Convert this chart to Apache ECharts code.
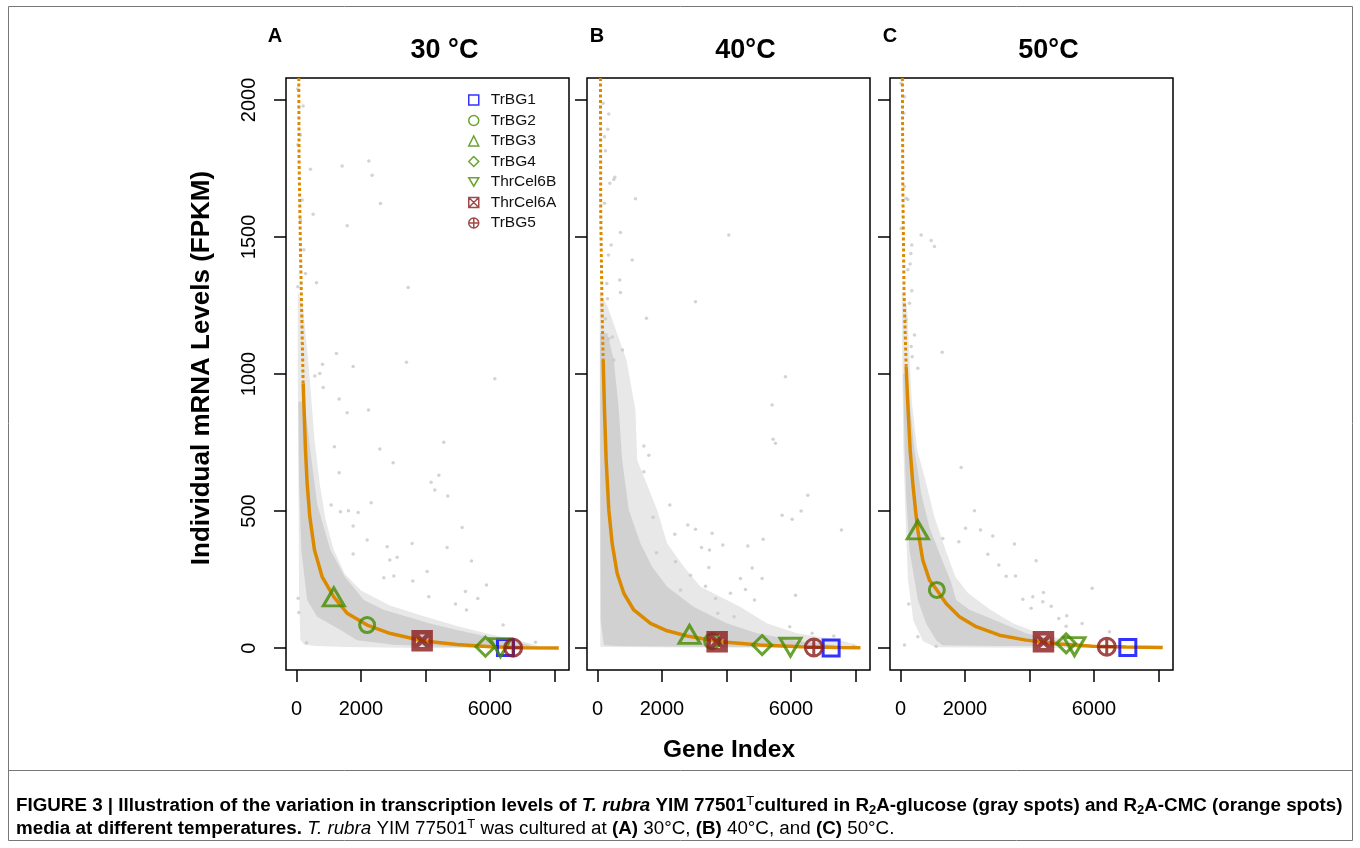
<!DOCTYPE html>
<html><head><meta charset="utf-8">
<script src="https://cdn.jsdelivr.net/npm/echarts@6/dist/echarts.min.js"></script>
<style>html,body{margin:0;padding:0;background:#fff}#c{width:1360px;height:848px}</style>
</head><body><div id="c"></div>
<script>
// ---------------- data ----------------
const xTicks = [0, 2000, 4000, 6000, 8000];
const xTickLabels = [0, 2000, 6000];
const yTicks = [0, 500, 1000, 1500, 2000];
const yTickLabels = [0, 500, 1000, 1500, 2000];
const panelLetters = ['A', 'B', 'C'];
const panelTitles = ['30 °C', '40°C', '50°C'];
const geneNames = ['TrBG1', 'TrBG2', 'TrBG3', 'TrBG4', 'ThrCel6B', 'ThrCel6A', 'TrBG5'];

// highlighted genes [gene index, FPKM] in geneNames order
const genesA = [[6481, 2], [2191, 84], [1157, 187], [5860, 5], [6326, 2], [3897, 27], [6719, 1]];
const genesB = [[7246, 0], [3556, 25], [2853, 50], [5106, 11], [5984, 3], [3711, 23], [6708, 2]];
const genesC = [[7050, 2], [1127, 212], [537, 431], [5137, 17], [5395, 5], [4434, 23], [6397, 5]];

// R2A-CMC sorted expression (orange), sparse top part and dense part
const curveTopA = [[72, 2080], [80, 1780], [124, 1452], [170, 1180], [207, 966]];
const curveA = [[207, 966], [250, 820], [279, 723], [331, 601], [413, 479], [558, 358], [796, 260], [1157, 187], [1571, 127], [2191, 84], [2915, 53], [3948, 26], [4982, 13], [6015, 5], [7050, 1.5], [8134, 0]];
const curveTopB = [[93, 2080], [100, 1600], [140, 1250], [176, 1051]];
const curveB = [[176, 1051], [217, 869], [269, 686], [351, 504], [455, 382], [610, 273], [816, 200], [1126, 139], [1643, 90], [2160, 63], [2780, 44], [3814, 23], [5054, 11], [6295, 5], [7535, 2], [8155, 1]];
const curveTopC = [[60, 2080], [71, 1700], [110, 1300], [176, 1027]];
const curveC = [[176, 1027], [240, 860], [300, 723], [382, 601], [465, 504], [537, 431], [692, 321], [899, 248], [1127, 212], [1416, 163], [1829, 114], [2346, 78], [3070, 47], [3897, 29], [4930, 15], [5963, 7], [6997, 4], [8133, 2]];

// R2A-glucose (gray): envelope of the sparse cloud, envelope of the dense core, and isolated spots
const cloudA = [[40, 1300], [200, 1250], [400, 1000], [560, 760], [720, 600], [900, 470], [1150, 360], [1500, 270], [2000, 210], [2900, 155], [3900, 118], [5000, 80], [6000, 50], [7000, 25], [7500, 8], [7500, 0], [4000, 0], [1500, 4], [600, 8], [250, 12], [120, 30], [80, 200], [60, 600], [40, 1000]];
const coreA = [[60, 900], [250, 900], [450, 700], [650, 520], [1054, 358], [1500, 260], [2088, 175], [2700, 140], [3432, 114], [4200, 88], [4982, 66], [5800, 45], [6532, 29], [7200, 12], [7300, 3], [6000, 2], [4500, 5], [3000, 12], [1881, 29], [1364, 66], [641, 114], [331, 175], [150, 358], [80, 600]];
const cloudB = [[70, 1300], [300, 1250], [900, 1051], [1178, 869], [1230, 686], [1850, 504], [2160, 382], [2677, 297], [3195, 224], [4434, 150], [5261, 90], [6191, 54], [7535, 29], [8051, 11], [8051, 0], [3000, 2], [300, 4], [90, 5], [80, 300], [70, 800]];
const coreB = [[80, 1150], [300, 1150], [506, 1051], [662, 869], [765, 686], [972, 504], [1333, 382], [1695, 297], [2160, 224], [2987, 150], [4021, 90], [4951, 54], [6088, 29], [7328, 11], [7400, 3], [3000, 5], [700, 8], [200, 10], [100, 100], [90, 600]];
const cloudC = [[40, 1300], [200, 1250], [350, 900], [520, 723], [800, 600], [1050, 479], [1400, 358], [1700, 260], [2100, 200], [2800, 139], [3500, 90], [4300, 54], [5100, 29], [5700, 11], [5700, 0], [1100, 3], [700, 25], [400, 100], [230, 250], [150, 500], [90, 723], [60, 1000]];
const coreC = [[80, 1000], [200, 1000], [434, 723], [650, 560], [900, 440], [1261, 330], [1571, 240], [1726, 175], [2140, 140], [3173, 90], [3897, 54], [4930, 25], [5300, 8], [3000, 8], [1300, 10], [1106, 29], [796, 90], [540, 175], [279, 358], [180, 550], [130, 723]];

const spotsA = [[41, 2040], [207, 1978], [41, 1836], [124, 1872], [176, 1635], [124, 1562], [227, 1453], [279, 1367], [41, 1318],
  [434, 1747], [1416, 1759], [2243, 1777], [2346, 1725], [2605, 1622], [517, 1583], [1571, 1541], [620, 1333], [3463, 1316],
  [1240, 1075], [806, 1036], [1757, 1027], [3411, 1043], [6150, 983], [568, 993], [724, 1002], [827, 951], [1323, 909], [1571, 859], [2233, 869],
  [1178, 735], [2584, 726], [4568, 751], [2997, 676], [1323, 640], [4413, 631], [4176, 605], [4290, 577], [4692, 555], [2315, 530], [1912, 495], [1612, 501], [1364, 497], [1075, 522], [5137, 440], [1757, 445],
  [3586, 382], [2812, 370], [4672, 367], [5426, 318], [3122, 331], [2894, 321], [2191, 394], [1757, 343], [2708, 257], [3018, 263], [3607, 245], [4051, 279], [5891, 230], [5240, 206], [4103, 187], [5622, 181], [4930, 161], [5271, 139], [6408, 84], [7411, 21], [52, 182], [72, 130], [310, 19]];
const spotsB = [[176, 1988], [320, 1893], [217, 1866], [248, 1815], [506, 1710], [382, 1696], [217, 1623], [341, 1434], [289, 1330], [310, 1275], [248, 1202], [455, 1135], [351, 1129],
  [1178, 1639], [4072, 1507], [713, 1516], [1075, 1416], [692, 1343], [713, 1297], [3039, 1264], [1519, 1203], [775, 1088], [537, 1718], [351, 1949], [424, 1471], [506, 1051],
  [5829, 990], [5416, 887], [5447, 762], [5519, 747], [1437, 737], [1592, 704], [1437, 643], [6522, 558], [2243, 522], [5726, 485], [6036, 470], [6315, 500], [1726, 477], [2801, 449], [3039, 434], [7566, 431], [2398, 415], [3556, 419], [5137, 397], [3887, 376], [3226, 367], [3474, 358], [4661, 372], [1829, 348], [2419, 315], [3453, 294], [4796, 292], [5106, 254], [4434, 254], [4589, 214], [2884, 266], [3350, 226], [4124, 200], [4868, 175], [3660, 181], [6140, 193], [2574, 212], [5963, 78], [3731, 127], [4237, 114], [6657, 54], [7328, 44], [7948, 7]];
const spotsC = [[21, 2061], [124, 2012], [103, 1951], [124, 1684], [176, 1641], [21, 1531], [320, 1440], [227, 1380], [279, 1258], [176, 1198], [331, 1100], [362, 1063],
  [641, 1507], [951, 1487], [1054, 1465], [351, 1471], [1292, 1079], [434, 1142], [351, 1304], [300, 1401], [537, 1021], [227, 1637],
  [1881, 659], [2295, 501], [2016, 437], [2481, 431], [2863, 409], [3535, 380], [1809, 388], [1313, 400], [4207, 319], [2708, 342], [3049, 303], [3566, 263], [3277, 262], [5943, 218], [4434, 203], [4103, 187], [3793, 178], [4413, 169], [4672, 153], [4052, 145], [5157, 118], [4909, 108], [5633, 90], [5137, 80], [6481, 60], [124, 11], [258, 161], [537, 41], [1106, 7]];

// ---------------- styling ----------------
const FONT = '"Liberation Sans", Arial, Helvetica, sans-serif';
const ORANGE = '#DB8A00';
const GRAY = '#c8c8c8';
const geneStyles = [
  { symbol: 'rect', color: '#0000FF', size: [16, 16], bw: 3 },
  { symbol: 'circle', color: '#458B00', size: [15, 15], bw: 3 },
  { symbol: 'triangle', color: '#458B00', size: [21, 18], bw: 3 },
  { symbol: 'diamond', color: '#458B00', size: [19, 19], bw: 3 },
  { symbol: 'path://M0,0L20,0L10,17Z', color: '#458B00', size: [21, 18], bw: 3 },
  { symbol: 'path://M0,0L16,0L16,16L0,16ZM0,0L16,16M16,0L0,16', color: '#8B1A1A', size: [17, 17], bw: 4.5 },
  { symbol: 'path://M0,8A8,8,0,1,1,16,8A8,8,0,1,1,0,8ZM0,8L16,8M8,0L8,16', color: '#8B1A1A', size: [17, 17], bw: 3 }
];
const gridLefts = [286, 587, 890];
const GRID_W = 283, GRID_TOP = 78, GRID_H = 592;
const panels = [
  { genes: genesA, top: curveTopA, curve: curveA, cloud: cloudA, core: coreA, spots: spotsA },
  { genes: genesB, top: curveTopB, curve: curveB, cloud: cloudB, core: coreB, spots: spotsB },
  { genes: genesC, top: curveTopC, curve: curveC, cloud: cloudC, core: coreC, spots: spotsC }
];

const grids = [], xAxes = [], yAxes = [], series = [], graphics = [];
panels.forEach((p, i) => {
  grids.push({ left: gridLefts[i], top: GRID_TOP, width: GRID_W, height: GRID_H, show: true,
    borderColor: '#000', borderWidth: 1.5, backgroundColor: 'transparent' });
  xAxes.push({ type: 'value', gridIndex: i, min: -325, max: 8451,
    axisLine: { show: false, onZero: false }, splitLine: { show: false },
    axisTick: { show: true, customValues: xTicks, length: 12, lineStyle: { color: '#000', width: 1.5 } },
    axisLabel: { show: true, customValues: xTickLabels, formatter: v => String(v), margin: 29,
      fontSize: 20, fontFamily: FONT, color: '#000' } });
  yAxes.push({ type: 'value', gridIndex: i, min: -80, max: 2080,
    axisLine: { show: false, onZero: false }, splitLine: { show: false },
    axisTick: { show: true, customValues: yTicks, length: 12, lineStyle: { color: '#000', width: 1.5 } },
    axisLabel: { show: i === 0, customValues: yTickLabels, formatter: v => String(v), rotate: 90, margin: 27,
      fontSize: 20, fontFamily: FONT, color: '#000' } });

  const poly = (pts, fill, z) => ({
    type: 'custom', xAxisIndex: i, yAxisIndex: i, silent: true, z: z, data: pts,
    renderItem: (params, api) => {
      if (params.dataIndex !== 0) return null;
      return { type: 'polygon', shape: { points: pts.map(q => api.coord(q)) }, style: { fill: fill } };
    }
  });
  series.push(poly(p.cloud, '#e8e8e8', 1));
  series.push(poly(p.core, '#d1d1d1', 1));
  series.push({ type: 'scatter', xAxisIndex: i, yAxisIndex: i, silent: true, z: 2, data: p.spots,
    symbolSize: 3.5, itemStyle: { color: GRAY } });
  series.push({ type: 'line', xAxisIndex: i, yAxisIndex: i, silent: true, z: 3, data: p.top, showSymbol: false,
    lineStyle: { color: ORANGE, width: 3, type: [3, 2.5] } });
  series.push({ type: 'line', xAxisIndex: i, yAxisIndex: i, silent: true, z: 3, data: p.curve, showSymbol: false,
    lineStyle: { color: ORANGE, width: 3.5 } });
  p.genes.forEach((g, k) => {
    const st = geneStyles[k];
    series.push({ type: 'scatter', name: geneNames[k], xAxisIndex: i, yAxisIndex: i, silent: true, z: 4,
      data: [g], symbol: st.symbol, symbolSize: st.size,
      itemStyle: { color: 'rgba(0,0,0,0)', borderColor: st.color, borderWidth: st.bw } });
  });

  const cx = gridLefts[i] + GRID_W / 2 + 17;
  graphics.push({ type: 'text', x: cx, y: 51, style: { text: panelTitles[i], font: 'bold 27px ' + FONT,
    fill: '#000', align: 'center', verticalAlign: 'middle', textAlign: 'center', textVerticalAlign: 'middle' } });
  graphics.push({ type: 'text', x: [275, 597, 890][i], y: 36, style: { text: panelLetters[i], font: 'bold 20px ' + FONT,
    fill: '#000', align: 'center', verticalAlign: 'middle', textAlign: 'center', textVerticalAlign: 'middle' } });
});

graphics.push({ type: 'text', x: 202, y: 368, rotation: Math.PI / 2, style: { text: 'Individual mRNA Levels (FPKM)',
  font: 'bold 26px ' + FONT, fill: '#000', align: 'center', verticalAlign: 'middle', textAlign: 'center', textVerticalAlign: 'middle' } });
graphics.push({ type: 'text', x: 729, y: 750, style: { text: 'Gene Index',
  font: 'bold 24.5px ' + FONT, fill: '#000', align: 'center', verticalAlign: 'middle', textAlign: 'center', textVerticalAlign: 'middle' } });

// frame + caption
graphics.push({ type: 'rect', shape: { x: 8.5, y: 6.5, width: 1344, height: 834 }, style: { fill: 'none', stroke: '#777', lineWidth: 1 }, silent: true });
graphics.push({ type: 'line', shape: { x1: 8.5, y1: 770.5, x2: 1352.5, y2: 770.5 }, style: { stroke: '#777', lineWidth: 1 }, silent: true });
const CF = 18.8;
const rich = {
  b: { fontFamily: FONT, fontSize: CF, fontWeight: 'bold', fill: '#000', lineHeight: 22 },
  bi: { fontFamily: FONT, fontSize: CF, fontWeight: 'bold', fontStyle: 'italic', fill: '#000', lineHeight: 22 },
  r: { fontFamily: FONT, fontSize: CF, fill: '#000', lineHeight: 22 },
  i: { fontFamily: FONT, fontSize: CF, fontStyle: 'italic', fill: '#000', lineHeight: 22 },
  sup: { fontFamily: FONT, fontSize: 13, fill: '#000', lineHeight: 12, verticalAlign: 'top' },
  sub: { fontFamily: FONT, fontSize: 13, fontWeight: 'bold', fill: '#000', lineHeight: 12, verticalAlign: 'bottom' }
};
graphics.push({ type: 'text', x: 16, y: 795, style: {
  text: '{b|FIGURE 3 | Illustration of the variation in transcription levels of }{bi|T. rubra}{b| YIM 77501}{sup|T}{b|cultured in R}{sub|2}{b|A-glucose (gray spots) and R}{sub|2}{b|A-CMC (orange spots)}',
  rich: rich, verticalAlign: 'top', textVerticalAlign: 'top' } });
graphics.push({ type: 'text', x: 16, y: 818, style: {
  text: '{b|media at different temperatures. }{i|T. rubra}{r| YIM 77501}{sup|T}{r| was cultured at }{b|(A)}{r| 30°C, }{b|(B)}{r| 40°C, and }{b|(C)}{r| 50°C.}',
  rich: rich, verticalAlign: 'top', textVerticalAlign: 'top' } });

const chart = echarts.init(document.getElementById('c'), null, { renderer: 'canvas' });
chart.setOption({
  animation: false,
  backgroundColor: '#fff',
  grid: grids, xAxis: xAxes, yAxis: yAxes, series: series,
  legend: { orient: 'vertical', left: 468, top: 92, padding: 0, itemWidth: 10, itemHeight: 10, itemGap: 4.5, selectedMode: false,
    data: geneNames, textStyle: { fontSize: 15.5, fontFamily: FONT, color: '#111', lineHeight: 16, padding: [0, 0, 0, 7] },
    itemStyle: { borderWidth: 1.5 } },
  graphic: { elements: graphics }
});
</script></body></html>
